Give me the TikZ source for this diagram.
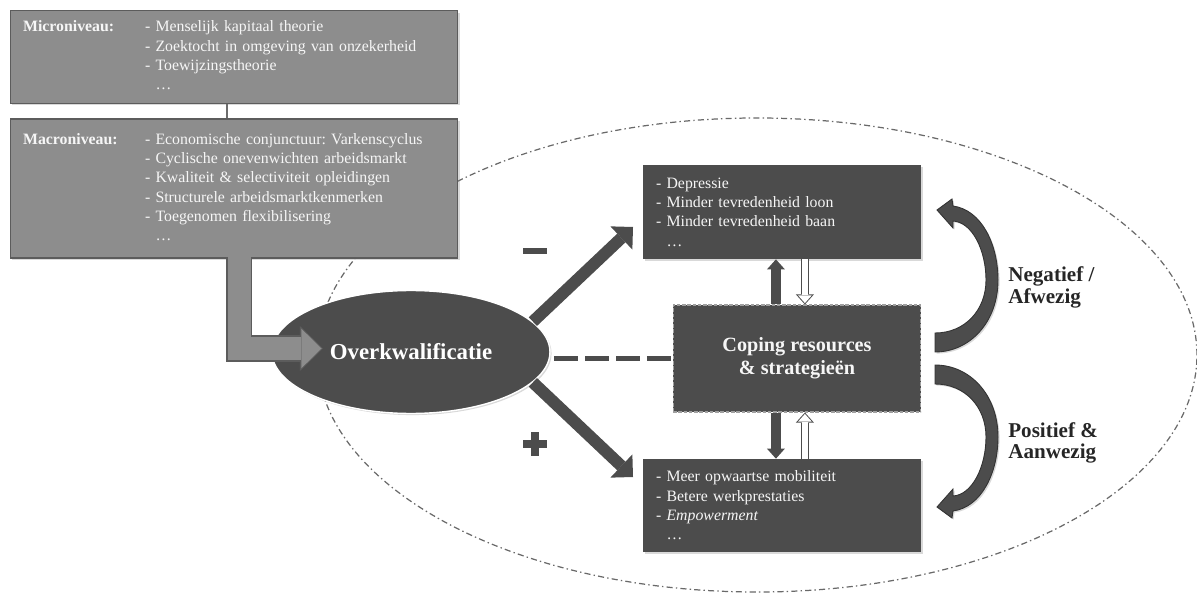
\documentclass[tikz,border=0pt]{standalone}
\usepackage{fontspec}
\setmainfont{Liberation Serif}
\frenchspacing
\usetikzlibrary{arrows.meta, shapes.geometric, shadows}

\definecolor{boxgray}{RGB}{141,141,141}
\definecolor{boxedge}{RGB}{92,92,92}
\definecolor{darkfill}{RGB}{76,76,76}
\definecolor{textlight}{RGB}{246,246,246}
\definecolor{ringgray}{RGB}{105,105,105}

\tikzset{
  softshadow/.style = {drop shadow={opacity=0.3, shadow xshift=0.9pt, shadow yshift=-0.9pt}},
  levelbox/.style = {draw=boxedge, fill=boxgray, line width=0.6pt, text=textlight,
    align=left, inner xsep=7.4pt, inner ysep=0pt, text width=240.1pt,
    font=\fontsize{9}{11}\selectfont, softshadow},
  effectbox/.style = {fill=darkfill, text=textlight, align=left, inner xsep=7.4pt,
    inner ysep=0pt, text width=143.4pt, font=\fontsize{9}{11}\selectfont, softshadow},
  copingbox/.style = {fill=darkfill, draw=gray!75, dash pattern=on 2pt off 1pt,
    line width=0.6pt, minimum width=141.1pt, minimum height=60.9pt, inner sep=0pt,
    text=textlight, align=center, font=\fontsize{11.5}{13}\selectfont\bfseries},
  overnode/.style = {ellipse, fill=darkfill, draw=white, line width=0.8pt,
    minimum width=158.2pt, minimum height=70pt, inner sep=0pt, text=white,
    font=\fontsize{13}{15}\selectfont\bfseries, softshadow},
  ring/.style = {draw=ringgray, line width=0.7pt,
    dash pattern=on 3.5pt off 1.8pt on 0.8pt off 1.8pt},
  levellink/.style = {draw=gray!85!black, line width=1.2pt},
  bentouter/.style = {draw=boxedge, line width=14.8pt, line join=miter,
    -{Triangle[width=25.6pt, length=13.1pt, line width=0pt]}},
  bentinner/.style = {draw=boxgray, line width=13.6pt, line join=miter, shorten >=0.85pt,
    -{Triangle[width=22.6pt, length=11.5pt, line width=0pt]}},
  bigarrow/.style = {draw=darkfill, line width=6.8pt,
    -{Triangle[width=18.2pt, length=9.1pt, line width=0pt]}},
  solidarrow/.style = {draw=darkfill, line width=5.7pt,
    -{Triangle[width=10.2pt, length=5.7pt, line width=0pt]}},
  hollowouter/.style = {draw=darkfill, line width=4.5pt,
    -{Triangle[width=10.2pt, length=5.7pt, line width=0pt]}},
  hollowinner/.style = {draw=white, line width=3.4pt, shorten >=0.82pt,
    -{Triangle[width=7.75pt, length=4.33pt, line width=0pt]}},
  dashlink/.style = {draw=darkfill, line width=3.4pt, dash pattern=on 13.6pt off 4pt},
  curvearrow/.style = {fill=darkfill, draw=black!80, line width=0.5pt, softshadow},
  sidelabel/.style = {anchor=west, align=left, inner sep=0pt, text=black!85,
    font=\fontsize{12}{12.3}\selectfont\bfseries},
  signline/.style = {draw=darkfill}
}

\begin{document}
\begin{tikzpicture}[x=0.02cm, y=-0.02cm]

  \useasboundingbox (0,0) rectangle (1197,601);

  % Dash-dot ring round the effects
  \draw[ring] (757,355) ellipse [x radius=250.4pt, y radius=134.9pt];

  % Micro and macro level
  \node[levelbox, minimum height=52.4pt] (micro) at (234,57) {%
    \begin{tabular}{@{}p{69.4pt}@{}l@{}}
      \textbf{Microniveau:} & - Menselijk kapitaal theorie\\
      & - Zoektocht in omgeving van onzekerheid\\
      & - Toewijzingstheorie\\
      & \phantom{- }\ldots
    \end{tabular}};
  \node[levelbox, minimum height=79.1pt] (macro) at (234,188.5) {%
    \begin{tabular}{@{}p{69.4pt}@{}l@{}}
      \textbf{Macroniveau:} & - Economische conjunctuur: Varkenscyclus\\
      & - Cyclische onevenwichten arbeidsmarkt\\
      & - Kwaliteit \& selectiviteit opleidingen\\
      & - Structurele arbeidsmarktkenmerken\\
      & - Toegenomen flexibilisering\\
      & \phantom{- }\ldots
    \end{tabular}};
  \draw[levellink] ([xshift=-4pt]micro.south) -- ([xshift=-4pt]macro.north);

  % Overkwalificatie
  \node[overnode] (ov) at (411,352) {Overkwalificatie};

  % Bent arrow into the ellipse
  \coordinate (ovin) at (323,348.5);
  \draw[bentouter] ([xshift=3.1pt]macro.south) |- (ovin);
  \draw[bentinner] ([xshift=3.1pt, yshift=1pt]macro.south) |- (ovin);

  % Effects and coping
  \node[effectbox, minimum height=53.5pt] (neg) at (782,212)
    {- Depressie\\- Minder tevredenheid loon\\- Minder tevredenheid baan\\\phantom{- }\ldots};
  \node[copingbox] (cop) at (797,358.5) {Coping resources\\\& strategieën};
  \node[effectbox, minimum height=52.9pt] (pos) at (782,505.5)
    {- Meer opwaartse mobiliteit\\- Betere werkprestaties\\- \textit{Empowerment}\\\phantom{- }\ldots};

  % Arrows out of the ellipse
  \coordinate (negtip) at (633,227);
  \coordinate (postip) at (633,477);
  \draw[bigarrow] (ov.14) -- (negtip);
  \draw[bigarrow] (ov.-14) -- (postip);
  \draw[dashlink, shorten <=2pt] (ov.east |- cop.west) -- (cop.west);

  % Minus and plus
  \draw[signline, line width=3.4pt] (523,251) -- (547,251);
  \draw[signline, line width=4.5pt] (523,444) -- (547,444) (535,432) -- (535,456);

  % Arrows between coping and effects
  \draw[solidarrow] ([xshift=-12pt]cop.north) -- ([xshift=-12pt]cop.north |- neg.south);
  \draw[hollowouter] ([xshift=4.5pt]cop.north |- neg.south) -- ([xshift=4.5pt]cop.north);
  \draw[hollowinner] ([xshift=4.5pt]cop.north |- neg.south) -- ([xshift=4.5pt]cop.north);
  \draw[solidarrow] ([xshift=-12pt]cop.south) -- ([xshift=-12pt]cop.south |- pos.north);
  \draw[hollowouter] ([xshift=4.5pt]cop.south |- pos.north) -- ([xshift=4.5pt]cop.south);
  \draw[hollowinner] ([xshift=4.5pt]cop.south |- pos.north) -- ([xshift=4.5pt]cop.south);

  % Curved arrows
  \foreach \ty/\fy in {342/1, 375/-1}
    \draw[curvearrow, shift={(935,\ty)}, yscale=\fy]
      (0,-9) .. controls (30,-9) and (51,-32) .. (51,-62)
      .. controls (51,-92) and (37,-120) .. (18,-121)
      -- (18,-114) -- (2,-132) -- (17,-143) -- (18,-136)
      .. controls (47,-132) and (63,-97) .. (63,-62)
      .. controls (63,-20) and (35,10) .. (0,10) -- cycle;

  \node[sidelabel] (neglab) at (1008,287.5) {Negatief /\\Afwezig};
  \node[sidelabel] (poslab) at (1008,443) {Positief \&\\Aanwezig};

\end{tikzpicture}
\end{document}
